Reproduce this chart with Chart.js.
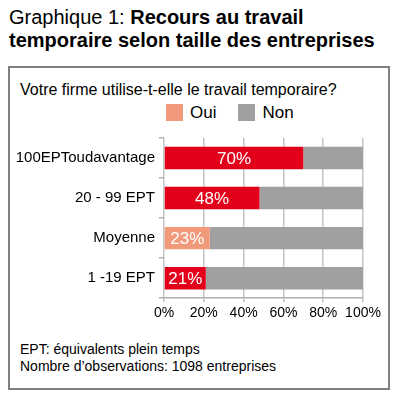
<!DOCTYPE html>
<html>
<head>
<meta charset="utf-8">
<script src="https://cdn.jsdelivr.net/npm/chart.js@4"></script>
<style>
  body { margin: 0; width: 398px; height: 403px; background: #fff; font-family: "Liberation Sans", Arial, sans-serif; color: #000; position: relative; overflow: hidden; }
  #title { position: absolute; left: 9px; top: 6px; font-size: 20px; line-height: 23px; }
  #title b { font-weight: bold; }
  #box { position: absolute; left: 8px; top: 66px; width: 378px; height: 320px; border: 2px solid #808080; }
  #question { position: absolute; left: 20px; top: 81px; font-size: 16px; }
  #legend { position: absolute; top: 103px; left: 166px; font-size: 17px; }
  #legend span.sw { display: inline-block; width: 17px; height: 17px; vertical-align: -3px; margin-right: 7px; }
  #legend span.item { margin-right: 22px; }
  #wrap { position: absolute; left: 10px; top: 125px; width: 377px; height: 200px; }
  #notes { position: absolute; left: 20px; top: 341px; font-size: 14px; line-height: 17px; }
</style>
</head>
<body>
<div id="title">Graphique 1: <b>Recours au travail<br>temporaire selon taille des entreprises</b></div>
<div id="box"></div>
<div id="question">Votre firme utilise-t-elle le travail temporaire?</div>
<div id="legend"></div>
<div id="wrap"><canvas id="chart"></canvas></div>
<div id="notes">EPT: équivalents plein temps<br>Nombre d’observations: 1098 entreprises</div>
<script>
const categories = ['100EPToudavantage', '20 - 99 EPT', 'Moyenne', '1 -19 EPT']
const ouiValues = [70, 48, 23, 21]
const nonValues = [30, 52, 77, 79]
const xTicks = [0, 20, 40, 60, 80, 100]

const red = '#e2001a'
const salmon = '#f19a7b'
const grey = '#a0a0a0'
const ouiColors = categories.map((c) => c === 'Moyenne' ? salmon : red)

document.getElementById('legend').innerHTML =
  `<span class="item"><span class="sw" style="background:${salmon}"></span>Oui</span>` +
  `<span class="item"><span class="sw" style="background:${grey}"></span>Non</span>`

const barLabels = {
  id: 'barLabels',
  afterDatasetsDraw(chart) {
    const ctx = chart.ctx
    const meta = chart.getDatasetMeta(0)
    ctx.save()
    ctx.fillStyle = '#fff'
    ctx.font = '17px "Liberation Sans", Arial, sans-serif'
    ctx.textAlign = 'center'
    ctx.textBaseline = 'middle'
    meta.data.forEach((bar, i) => {
      const x = (bar.x + bar.base) / 2
      ctx.fillText(ouiValues[i] + '%', x, bar.y + 1)
    })
    ctx.restore()
  }
}

new Chart('chart', {
  type: 'bar',
  data: {
    labels: categories,
    datasets: [
      { label: 'Oui', data: ouiValues, backgroundColor: ouiColors, barPercentage: 0.56, categoryPercentage: 1 },
      { label: 'Non', data: nonValues, backgroundColor: grey, barPercentage: 0.56, categoryPercentage: 1 }
    ]
  },
  options: {
    indexAxis: 'y',
    responsive: true,
    maintainAspectRatio: false,
    animation: false,
    layout: { padding: { top: 11, right: 24, left: 0, bottom: 0 } },
    plugins: { legend: { display: false }, tooltip: { enabled: false } },
    scales: {
      x: {
        stacked: true,
        min: 0,
        max: 100,
        afterBuildTicks: (axis) => { axis.ticks = xTicks.map((v) => ({ value: v })) },
        grid: { color: '#c4c4c4', lineWidth: 1.5, tickLength: 4 },
        border: { color: '#b0b0b0', width: 1.5 },
        ticks: {
          color: '#000',
          padding: 3,
          autoSkip: false,
          maxRotation: 0,
          font: { family: '"Liberation Sans", Arial, sans-serif', size: 14 },
          callback: (v) => v + '%'
        }
      },
      y: {
        stacked: true,
        afterFit: (axis) => { axis.width = 154 },
        grid: { offset: true, drawOnChartArea: false, color: '#b0b0b0', lineWidth: 1.5, tickLength: 5 },
        border: { display: false },
        ticks: {
          color: '#000',
          padding: 4,
          font: { family: '"Liberation Sans", Arial, sans-serif', size: 15 }
        }
      }
    }
  },
  plugins: [barLabels]
})
</script>
</body>
</html>
